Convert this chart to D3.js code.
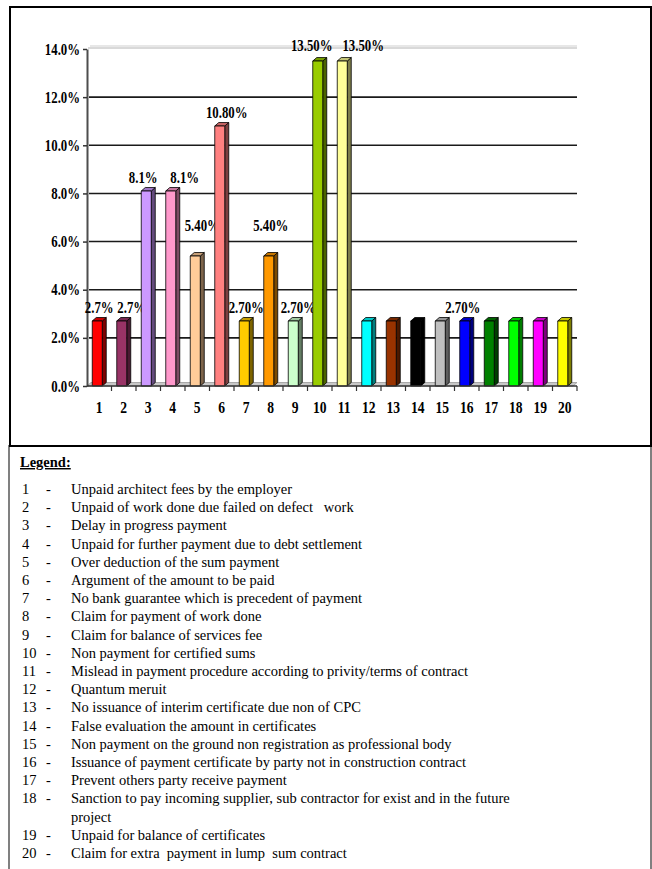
<!DOCTYPE html>
<html lang="en">
<head>
    <meta charset="UTF-8">
    <title>Payment issues</title>
    <script src="https://cdn.jsdelivr.net/npm/d3@7"></script>
    <style>
        body { margin: 0; background: white; }
        svg { display: block; }
        text { font-family: "Liberation Serif", "Times New Roman", serif; fill: #000; }
        .bold { font-weight: bold; }
    </style>
</head>
<body>
<script>
    const width = 652;
    const height = 869;

    // data
    const categories = ["1","2","3","4","5","6","7","8","9","10","11","12","13","14","15","16","17","18","19","20"];
    const values = [2.7, 2.7, 8.1, 8.1, 5.4, 10.8, 2.7, 5.4, 2.7, 13.5, 13.5, 2.7, 2.7, 2.7, 2.7, 2.7, 2.7, 2.7, 2.7, 2.7];
    const valueLabels = ["2.7%","2.7%","8.1%","8.1%","5.40%","10.80%","2.70%","5.40%","2.70%","13.50%","13.50%","","","","","2.70%","","","",""];
    const barColors = ["#ff0000","#993366","#cc99ff","#ff99cc","#ffcc99","#ff8080","#ffcc00","#ff9900","#ccffcc","#99cc00",
                       "#ffff99","#00ffff","#993300","#000000","#c0c0c0","#0000ff","#008000","#00ff00","#ff00ff","#ffff00"];
    const yTicks = [0, 2, 4, 6, 8, 10, 12, 14];
    const legendItems = [
        ["1", "Unpaid architect fees by the employer"],
        ["2", "Unpaid of work done due failed on defect   work"],
        ["3", "Delay in progress payment"],
        ["4", "Unpaid for further payment due to debt settlement"],
        ["5", "Over deduction of the sum payment"],
        ["6", "Argument of the amount to be paid"],
        ["7", "No bank guarantee which is precedent of payment"],
        ["8", "Claim for payment of work done"],
        ["9", "Claim for balance of services fee"],
        ["10", "Non payment for certified sums"],
        ["11", "Mislead in payment procedure according to privity/terms of contract"],
        ["12", "Quantum meruit"],
        ["13", "No issuance of interim certificate due non of CPC"],
        ["14", "False evaluation the amount in certificates"],
        ["15", "Non payment on the ground non registration as professional body"],
        ["16", "Issuance of payment certificate by party not in construction contract"],
        ["17", "Prevent others party receive payment"],
        ["18", "Sanction to pay incoming supplier, sub contractor for exist and in the future", "project"],
        ["19", "Unpaid for balance of certificates"],
        ["20", "Claim for extra  payment in lump  sum contract"]
    ];

    const svg = d3.select("body").append("svg")
            .attr("width", width).attr("height", height);

    // frames
    svg.append("rect").attr("x", 9).attr("y", 446).attr("width", 642).attr("height", 440)
        .attr("fill", "none").attr("stroke", "#808080").attr("stroke-width", 2);
    svg.append("rect").attr("x", 10).attr("y", 7).attr("width", 641).attr("height", 439)
        .attr("fill", "none").attr("stroke", "#000").attr("stroke-width", 2);

    const plot = {left: 87, right: 577, top: 49, bottom: 386};
    const depthX = 4, depthY = 3.5;
    const sx = 0.8; // the chart text is horizontally squeezed

    const x = d3.scaleBand().domain(categories).range([plot.left, plot.right]);
    const y = d3.scaleLinear().domain([0, 14]).range([plot.bottom, plot.top]);

    // floor
    svg.append("polygon")
        .attr("points", [[plot.left, plot.bottom], [plot.right - depthX, plot.bottom],
                         [plot.right, plot.bottom - depthY], [plot.left + depthX, plot.bottom - depthY]].join(" "))
        .attr("fill", "#c8c8c8").attr("stroke", "#9a9a9a").attr("stroke-width", 0.8);

    // gridlines
    svg.selectAll("line.grid")
        .data(yTicks.filter(d => d > 0 && d < 14))
        .enter().append("line")
        .attr("class", "grid")
        .attr("x1", plot.left + 2).attr("x2", plot.right)
        .attr("y1", d => y(d)).attr("y2", d => y(d))
        .attr("stroke", "#1a1a1a").attr("stroke-width", 1.6);

    // back wall top edge at 14%
    svg.append("line").attr("x1", plot.left + 3).attr("x2", plot.right)
        .attr("y1", y(14) - 3).attr("y2", y(14) - 3)
        .attr("stroke", "#d0d0d0").attr("stroke-width", 1.2);
    svg.append("line").attr("x1", plot.left + 1).attr("x2", plot.right)
        .attr("y1", y(14) - 1).attr("y2", y(14) - 1)
        .attr("stroke", "#b4b4b4").attr("stroke-width", 1.2);

    // y axis
    const yAxis = svg.append("g")
        .attr("transform", `translate(${plot.left},0)`)
        .call(d3.axisLeft(y).tickValues(yTicks).tickFormat(d => d.toFixed(1) + "%").tickSize(4).tickSizeOuter(0));
    yAxis.select(".domain").attr("stroke", "#4d4d4d").attr("stroke-width", 2);
    yAxis.selectAll(".tick line").attr("stroke", "#333").attr("stroke-width", 1.5);
    yAxis.selectAll(".tick text")
        .attr("class", "bold")
        .attr("font-size", 16)
        .attr("x", -7 / sx)
        .attr("transform", `scale(${sx},1)`);

    // value labels sit behind the bars, as in the picture
    const labelDx = {1: 8, 2: -5, 3: 12, 4: 5, 5: 5, 8: 3, 9: -8, 10: 19, 15: -4};
    const labelDy = {4: -17, 7: -17, 9: -2, 10: -2};
    svg.selectAll("text.vlabel")
        .data(values.map((v, i) => ({v, i})).filter(d => valueLabels[d.i] !== ""))
        .enter().append("text")
        .attr("class", "vlabel bold")
        .attr("font-size", 16)
        .attr("text-anchor", "middle")
        .attr("transform", d => {
            const cx = x(categories[d.i]) + x.bandwidth() / 2 + (labelDx[d.i] || 0);
            const cy = y(d.v) - 8 + (labelDy[d.i] || 0);
            return `translate(${cx},${cy}) scale(${sx},1)`;
        })
        .text(d => valueLabels[d.i]);

    // 3D bars
    const bars = svg.selectAll("g.bar")
        .data(values.map((v, i) => ({v, i})))
        .enter().append("g")
        .attr("class", "bar");

    function face(d, part) {
        const c = x(categories[d.i]) + x.bandwidth() / 2;
        const x0 = c - 7, x1 = c + 3, y0 = y(d.v), y1 = y(0);
        if (part === "front") return [[x0, y0], [x1, y0], [x1, y1], [x0, y1]];
        if (part === "side") return [[x1, y0], [x1 + depthX, y0 - depthY], [x1 + depthX, y1 - depthY], [x1, y1]];
        return [[x0, y0], [x0 + depthX, y0 - depthY], [x1 + depthX, y0 - depthY], [x1, y0]];
    }

    bars.append("polygon")
        .attr("points", d => face(d, "side").join(" "))
        .attr("fill", d => d3.color(barColors[d.i]).darker(2))
        .attr("stroke", "#000").attr("stroke-width", 0.8);
    bars.append("polygon")
        .attr("points", d => face(d, "top").join(" "))
        .attr("fill", d => d3.color(barColors[d.i]).darker(0.7))
        .attr("stroke", "#000").attr("stroke-width", 0.8);
    bars.append("polygon")
        .attr("points", d => face(d, "front").join(" "))
        .attr("fill", d => barColors[d.i])
        .attr("stroke", "#000").attr("stroke-width", 0.8);

    // x axis
    svg.append("line")
        .attr("x1", plot.left).attr("x2", plot.right)
        .attr("y1", plot.bottom).attr("y2", plot.bottom)
        .attr("stroke", "#333").attr("stroke-width", 1.6);
    svg.selectAll("line.xtick")
        .data(categories.slice(1).concat(["end"]))
        .enter().append("line")
        .attr("class", "xtick")
        .attr("x1", d => d === "end" ? plot.right : x(d))
        .attr("x2", d => d === "end" ? plot.right : x(d))
        .attr("y1", plot.bottom).attr("y2", plot.bottom + 5)
        .attr("stroke", "#333").attr("stroke-width", 1.2);

    const xAxis = svg.append("g")
        .attr("transform", `translate(0,${plot.bottom})`)
        .call(d3.axisBottom(x).tickSize(0).tickPadding(15));
    xAxis.select(".domain").remove();
    xAxis.selectAll(".tick text")
        .attr("class", "bold")
        .attr("font-size", 17)
        .attr("transform", `scale(${sx},1)`);

    // legend
    const lg = svg.append("g");
    lg.append("text")
        .attr("class", "bold")
        .attr("x", 20).attr("y", 467)
        .attr("font-size", 14.5)
        .attr("text-decoration", "underline")
        .text("Legend:");

    const lineStep = 18.2;
    let line = 0;
    legendItems.forEach(item => {
        const yy = 494 + line * lineStep;
        lg.append("text").attr("x", 22).attr("y", yy).attr("font-size", 14.5).text(item[0]);
        lg.append("text").attr("x", 46).attr("y", yy).attr("font-size", 14.5).text("-");
        item.slice(1).forEach((t, k) => {
            lg.append("text")
                .attr("x", 71).attr("y", yy + k * lineStep)
                .attr("font-size", 14.5)
                .attr("xml:space", "preserve")
                .style("white-space", "pre")
                .text(t);
        });
        line += item.length - 1;
    });
</script>
</body>
</html>
